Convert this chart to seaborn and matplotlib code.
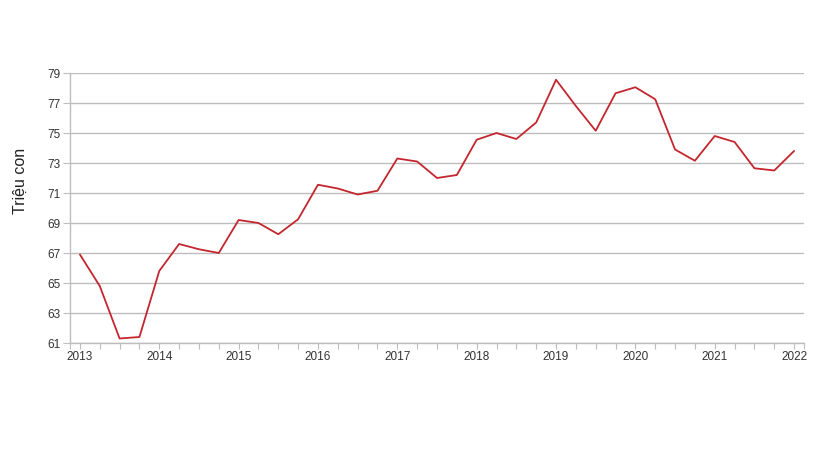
import matplotlib
matplotlib.use("Agg")
import matplotlib.pyplot as plt
import seaborn as sns
import pandas as pd
import numpy as np

years = ["2013", "2014", "2015", "2016", "2017", "2018", "2019", "2020", "2021", "2022"]
values = [66.9, 64.8, 61.3, 61.4,
          65.8, 67.6, 67.25, 67.0,
          69.2, 69.0, 68.25, 69.25,
          71.55, 71.3, 70.9, 71.15,
          73.3, 73.1, 72.0, 72.2,
          74.55, 75.0, 74.6, 75.7,
          78.55, 76.8, 75.15, 77.65,
          78.05, 77.25, 73.9, 73.15,
          74.8, 74.4, 72.65, 72.5,
          73.8]
y_ticks = [61, 63, 65, 67, 69, 71, 73, 75, 77, 79]
y_label = "Triệu con"

df = pd.DataFrame({"q": np.arange(len(values)), "v": values})

sns.set_theme(style="white")
plt.rcParams["font.family"] = ["Liberation Sans", "DejaVu Sans"]

fig = plt.figure(figsize=(8.2, 4.61), dpi=100)
ax = fig.add_axes([70 / 820, 1 - 343 / 461, 734 / 820, 270 / 461])

sns.lineplot(data=df, x="q", y="v", ax=ax, color="#c4262e", linewidth=1.3)

ax.set_xlim(-0.5, len(values) - 0.5)
ax.set_ylim(61, 79)
ax.set_yticks(y_ticks)
ax.set_yticklabels([str(t) for t in y_ticks])
ax.set_xticks(np.arange(0, len(values), 4))
ax.set_xticklabels(years)
ax.set_xticks(list(np.arange(0, len(values), 1)) + [-0.5, len(values) - 0.5], minor=True)

ax.grid(axis="y", color="#bdbdbd", linewidth=1.0)
ax.set_axisbelow(True)
for s in ["top", "right"]:
    ax.spines[s].set_visible(False)
for s in ["left", "bottom"]:
    ax.spines[s].set_visible(True)
    ax.spines[s].set_color("#bdbdbd")
    ax.spines[s].set_linewidth(1.0)

ax.tick_params(axis="x", which="both", direction="out", length=4, width=0.8,
               color="#bdbdbd", labelsize=8.5, labelcolor="#333333", pad=2, bottom=True)
ax.tick_params(axis="y", which="major", direction="out", length=5, width=0.8,
               color="#bdbdbd", labelsize=8.5, labelcolor="#333333", pad=2, left=True)

ax.set_xlabel("")
ax.set_ylabel("")
fig.text(20 / 820, 1 - 181 / 461, y_label, rotation=90, ha="center", va="center",
         fontsize=11.5, color="#222222")

fig.savefig("out.png", dpi=100, facecolor="white")
